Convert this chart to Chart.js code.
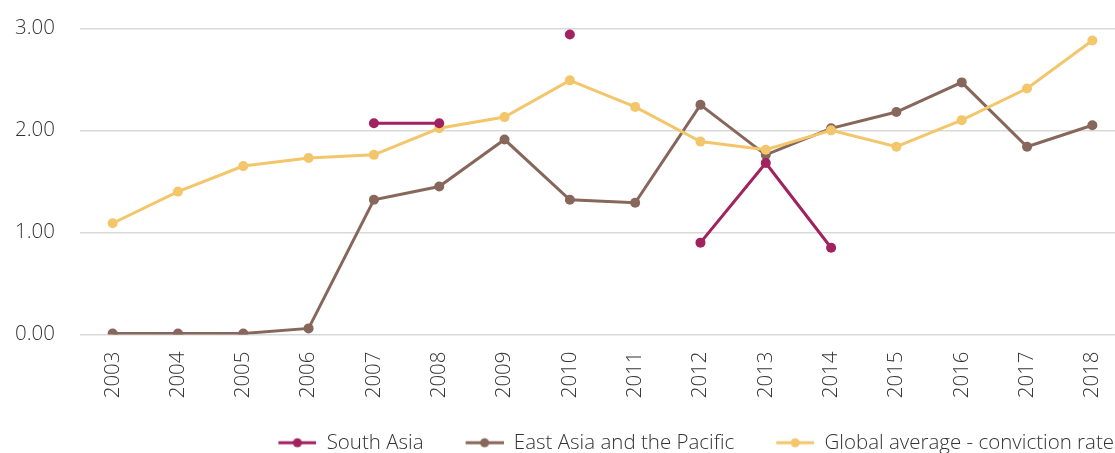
<!DOCTYPE html>
<html>
<head>
<meta charset="utf-8">
<script src="https://cdn.jsdelivr.net/npm/chart.js@4/dist/chart.umd.min.js"></script>
<style>
  html, body { margin: 0; padding: 0; background: #fff; overflow: hidden; }
  #wrap { width: 1115px; height: 453px; overflow: hidden; }
  #chart-conviction { display: block; margin-top: -9px; }
</style>
</head>
<body>
<div id="wrap">
  <canvas id="chart-conviction" width="1370" height="472"></canvas>
</div>
<script>
// Datos de las series (tasa de condenas por año)
const anios = ['2003', '2004', '2005', '2006', '2007', '2008', '2009', '2010',
               '2011', '2012', '2013', '2014', '2015', '2016', '2017', '2018'];
const surAsia = [null, null, null, null, 2.07, 2.07, null, 2.94,
                 null, 0.90, 1.68, 0.85, null, null, null, null];
const asiaOriental = [0.01, 0.01, 0.01, 0.06, 1.32, 1.45, 1.91, 1.32,
                      1.29, 2.25, 1.76, 2.02, 2.18, 2.47, 1.84, 2.05];
const promedioGlobal = [1.09, 1.40, 1.65, 1.73, 1.76, 2.02, 2.13, 2.49,
                        2.23, 1.89, 1.81, 2.00, 1.84, 2.10, 2.41, 2.88];
const etiquetasY = [0, 1, 2, 3];

const nombres = ['South Asia', 'East Asia and the Pacific', 'Global average - conviction rates'];
const colores = ['#a2215f', '#87675b', '#f3c66b'];

const ANCHO = 1370;
const BORDE_DERECHO = 1125;
const fuente = { family: "Open Sans", size: 20.5, weight: 300 };

// Marcador de la leyenda: línea con punto, con margen izquierdo transparente
function marcadorLeyenda(color) {
    const c = document.createElement('canvas');
    c.width = 70;
    c.height = 12;
    const g = c.getContext('2d');
    g.strokeStyle = color;
    g.lineWidth = 3;
    g.beginPath();
    g.moveTo(32, 6);
    g.lineTo(70, 6);
    g.stroke();
    g.fillStyle = color;
    g.beginPath();
    g.arc(51, 6, 4.5, 0, Math.PI * 2);
    g.fill();
    return c;
}

function serie(i, datos, orden) {
    return {
        label: nombres[i],
        data: datos,
        borderColor: colores[i],
        backgroundColor: colores[i],
        borderWidth: 3,
        pointRadius: 5,
        pointHoverRadius: 5,
        pointBorderWidth: 0,
        tension: 0,
        spanGaps: false,
        order: orden
    };
}

const ctx = document.getElementById('chart-conviction').getContext('2d');
const grafico = new Chart(ctx, {
    type: 'line',
    data: {
        labels: anios,
        datasets: [
            serie(0, surAsia, 0),
            serie(1, asiaOriental, 2),
            serie(2, promedioGlobal, 1)
        ]
    },
    options: {
        responsive: false,
        animation: false,
        layout: { padding: { top: 0, left: 0, right: 0, bottom: 0 } },
        plugins: {
            tooltip: { enabled: false },
            legend: {
                position: 'bottom',
                labels: {
                    usePointStyle: true,
                    pointStyleWidth: 70,
                    padding: 10,
                    color: '#333333',
                    font: fuente,
                    generateLabels: chart => chart.data.datasets.map((ds, i) => ({
                        text: ds.label,
                        pointStyle: marcadorLeyenda(ds.borderColor),
                        fillStyle: ds.borderColor,
                        strokeStyle: ds.borderColor,
                        lineWidth: 0,
                        rotation: 0,
                        fontColor: '#333333',
                        hidden: !chart.isDatasetVisible(i),
                        datasetIndex: i
                    }))
                }
            }
        },
        scales: {
            x: {
                offset: true,
                grid: { display: false, drawTicks: false },
                border: { display: false },
                ticks: {
                    color: '#333333',
                    font: fuente,
                    padding: 17,
                    maxRotation: 90,
                    minRotation: 90,
                    autoSkip: false
                },
                afterFit: scale => { scale.height = 88; }
            },
            y: {
                min: 0,
                max: 3,
                afterBuildTicks: scale => {
                    scale.ticks = etiquetasY.map(v => ({ value: v }));
                },
                grid: { color: '#d9d9d9', lineWidth: 1.5, drawTicks: false },
                border: { display: false },
                ticks: {
                    color: '#333333',
                    font: fuente,
                    padding: 25,
                    callback: v => Number(v).toFixed(2)
                },
                afterFit: scale => { scale.width = 80; }
            },
            margenDerecho: {
                position: 'right',
                grid: { display: false, drawTicks: false },
                border: { display: false },
                ticks: { display: false },
                afterFit: scale => { scale.width = ANCHO - BORDE_DERECHO; }
            }
        }
    }
});
</script>
</body>
</html>
